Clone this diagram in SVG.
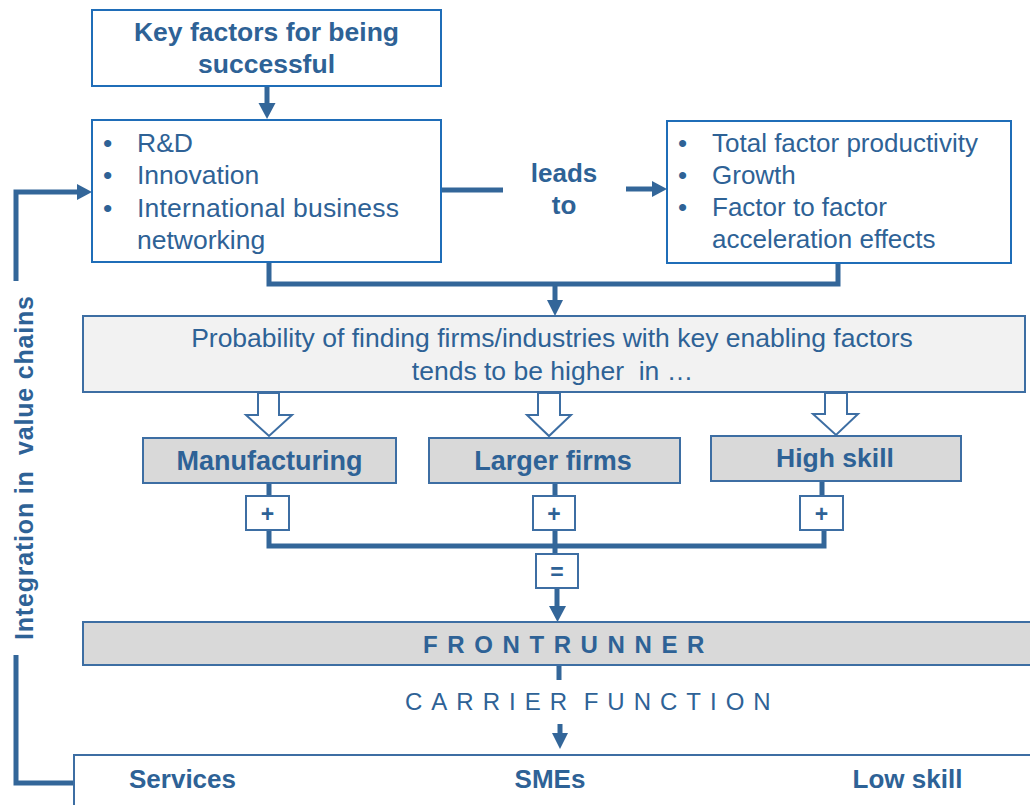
<svg xmlns="http://www.w3.org/2000/svg" width="1030" height="805" viewBox="0 0 1030 805">
<style>
text{font-family:"Liberation Sans",Arial,sans-serif;fill:#2E6296}
.b{font-weight:bold}
.box{fill:#fff;stroke:#1F6DB8;stroke-width:2}
.gbox{fill:#D9D9D9;stroke:#3D6EA3;stroke-width:2}
.lbox{fill:#F2F2F2;stroke:#3D6EA3;stroke-width:2}
.wbox{fill:#fff;stroke:#3D6EA3;stroke-width:2}
.ln{fill:none;stroke:#336699;stroke-width:5}
.hd{fill:#336699}
.hol{fill:#fff;stroke:#3D6EA3;stroke-width:2;stroke-linejoin:miter}
</style>
<rect width="1030" height="805" fill="#fff"/>
<g id="connectors">
  <path class="ln" d="M267 86V104"/>
  <polygon class="hd" points="258.5,103 275.5,103 267,119"/>
  <path class="ln" d="M441 190H503"/>
  <path class="ln" d="M626 189H653"/>
  <polygon class="hd" points="652,181 667,189 652,197"/>
  <path class="ln" d="M269 262V284H838V263"/>
  <path class="ln" d="M555 284V302"/>
  <polygon class="hd" points="547,300 563,300 555,316"/>
  <path class="ln" d="M16 281V192H79"/>
  <polygon class="hd" points="77,184 92,192 77,200"/>
  <path class="ln" d="M16 655V783H75"/>
  <path class="ln" d="M269 483V496M269 530V546H824V530M822 481V496M555 483V496M555 530V554"/>
  <path class="ln" d="M557 588V608"/>
  <polygon class="hd" points="549,606 566,606 557.5,622"/>
  <path class="ln" d="M559 666V680"/>
  <path class="ln" d="M560 724V735"/>
  <polygon class="hd" points="552,733 568,733 560,749"/>
  <polygon class="hol" points="258,393 279,393 279,415 292,415 269,436 246,415 258,415"/>
  <polygon class="hol" points="538,393 560,393 560,415 571,415 549,436 527,415 538,415"/>
  <polygon class="hol" points="825,393 847,393 847,414 858,414 836,435 813,414 825,414"/>
</g>
<g id="key-factors">
  <rect class="box" x="92" y="10" width="349" height="76"/>
  <text class="b" x="266.5" y="41" font-size="26.5" text-anchor="middle">Key factors for being</text>
  <text class="b" x="266.5" y="73" font-size="26.5" text-anchor="middle">successful</text>
</g>
<g id="drivers">
  <rect class="box" x="92" y="120" width="349" height="142"/>
  <g font-size="26.5">
    <text x="103" y="152">•</text><text x="137" y="152">R&amp;D</text>
    <text x="103" y="184">•</text><text x="137" y="184">Innovation</text>
    <text x="103" y="217">•</text><text x="137" y="217" textLength="262" lengthAdjust="spacing">International business</text>
    <text x="137" y="249">networking</text>
  </g>
</g>
<g id="leads-to">
  <text class="b" x="564" y="182" font-size="26" text-anchor="middle">leads</text>
  <text class="b" x="564" y="214" font-size="26" text-anchor="middle">to</text>
</g>
<g id="outcomes">
  <rect class="box" x="667" y="121" width="344" height="142"/>
  <g font-size="26">
    <text x="678" y="152">•</text><text x="712" y="152">Total factor productivity</text>
    <text x="678" y="184">•</text><text x="712" y="184">Growth</text>
    <text x="678" y="216">•</text><text x="712" y="216">Factor to factor</text>
    <text x="712" y="248">acceleration effects</text>
  </g>
</g>
<g id="probability">
  <rect class="lbox" x="83" y="316" width="942" height="76"/>
  <text x="552" y="347" font-size="26.5" text-anchor="middle">Probability of finding firms/industries with key enabling factors</text>
  <text x="552.5" y="380" font-size="26.5" text-anchor="middle" xml:space="preserve">tends to be higher  in …</text>
</g>
<g id="manufacturing">
  <rect class="gbox" x="143" y="438" width="253" height="45"/>
  <text class="b" x="269.5" y="470" font-size="27" text-anchor="middle">Manufacturing</text>
</g>
<g id="larger-firms">
  <rect class="gbox" x="429" y="438" width="251" height="45"/>
  <text class="b" x="553" y="470" font-size="27" text-anchor="middle">Larger firms</text>
</g>
<g id="high-skill">
  <rect class="gbox" x="711" y="436" width="250" height="45"/>
  <text class="b" x="835" y="467" font-size="26.5" text-anchor="middle">High skill</text>
</g>
<g id="plus-1">
  <rect class="wbox" x="246" y="496" width="43" height="34"/>
  <text class="b" x="267.5" y="522" font-size="23" text-anchor="middle">+</text>
</g>
<g id="plus-2">
  <rect class="wbox" x="533" y="496" width="42" height="34"/>
  <text class="b" x="554" y="522" font-size="23" text-anchor="middle">+</text>
</g>
<g id="plus-3">
  <rect class="wbox" x="800" y="496" width="43" height="34"/>
  <text class="b" x="821.5" y="522" font-size="23" text-anchor="middle">+</text>
</g>
<g id="equals">
  <rect class="wbox" x="536" y="554" width="42" height="34"/>
  <text class="b" x="557" y="580" font-size="23" text-anchor="middle">=</text>
</g>
<g id="frontrunner">
  <rect class="gbox" x="83" y="622" width="1000" height="43"/>
  <text class="b" x="423" y="653" font-size="24" letter-spacing="9.6">FRONTRUNNER</text>
</g>
<g id="carrier-function">
  <text x="405" y="710" font-size="24" letter-spacing="9" word-spacing="-8">CARRIER FUNCTION</text>
</g>
<g id="followers">
  <rect class="wbox" x="74" y="755" width="1000" height="100"/>
  <text class="b" x="182.5" y="788" font-size="26" text-anchor="middle">Services</text>
  <text class="b" x="550" y="788" font-size="26" text-anchor="middle">SMEs</text>
  <text class="b" x="907.5" y="788" font-size="26" text-anchor="middle">Low skill</text>
</g>
<g id="integration-label">
  <text class="b" transform="translate(33,640) rotate(-90)" font-size="25" textLength="344" lengthAdjust="spacing" xml:space="preserve">Integration in  value chains</text>
</g>
</svg>
